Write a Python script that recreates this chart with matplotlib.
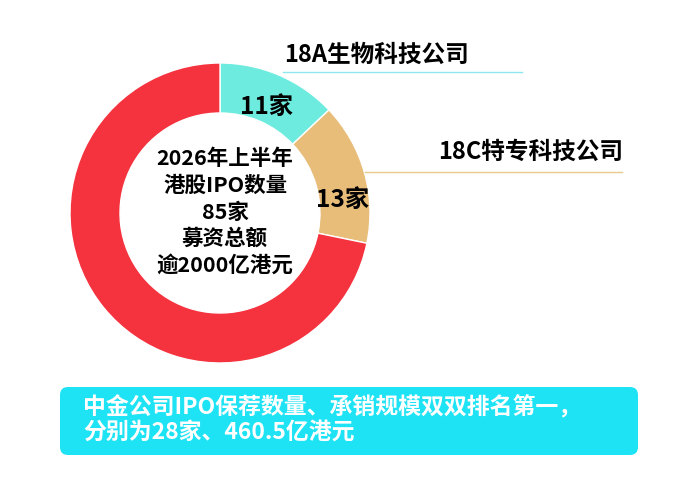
import matplotlib
matplotlib.use("Agg")
import matplotlib.pyplot as plt
from matplotlib.patches import FancyBboxPatch

plt.rcParams['font.family'] = ['Noto Sans CJK SC', 'DejaVu Sans']

# 数据
categories = ["18A生物科技公司", "18C特专科技公司", "其他"]
counts = [11, 13, 61]
seg_labels = ["11家", "13家", ""]
colors = ["#6EEBDF", "#E8BD7A", "#F5333F"]
center_text = "2026年上半年\n港股IPO数量\n85家\n募资总额\n逾2000亿港元"
note_text = "中金公司IPO保荐数量、承销规模双双排名第一，\n分别为28家、460.5亿港元"

fig = plt.figure(figsize=(7, 5), dpi=100)
ax = fig.add_axes([0, 0, 1, 1])

cx, cy, r = 220, 287, 150
ax.pie(counts, colors=colors, startangle=90, counterclock=False,
       center=(cx, cy), radius=r,
       wedgeprops=dict(width=50, edgecolor="white", linewidth=1))
ax.set_xlim(0, 700)
ax.set_ylim(0, 500)
ax.set_aspect("equal")
ax.axis("off")

# 环上标签
ax.text(267, 393, seg_labels[0], ha="center", va="center", fontsize=17.5, fontweight="bold")
ax.text(343, 300, seg_labels[1], ha="center", va="center", fontsize=17.5, fontweight="bold")

# 分类标签与引线
ax.text(377, 445, categories[0], ha="center", va="center", fontsize=17, fontweight="bold")
ax.plot([283, 522], [428, 428], color="#8FE6EE", lw=1)
ax.text(531, 348, categories[1], ha="center", va="center", fontsize=17, fontweight="bold")
ax.plot([365, 622], [328, 328], color="#EAC98C", lw=1)

# 中心文字
ax.text(225, 288, center_text, ha="center", va="center", fontsize=15.5,
        fontweight="bold", linespacing=1.33)

# 底部说明框
box = FancyBboxPatch((60, 45), 578, 68, boxstyle="round,pad=0,rounding_size=8",
                     facecolor="#1EE3F5", edgecolor="none")
ax.add_patch(box)
ax.text(83, 80, note_text, ha="left", va="center", fontsize=16.5, color="white",
        fontweight="bold", linespacing=1.05)

fig.savefig("out.png", dpi=100)
